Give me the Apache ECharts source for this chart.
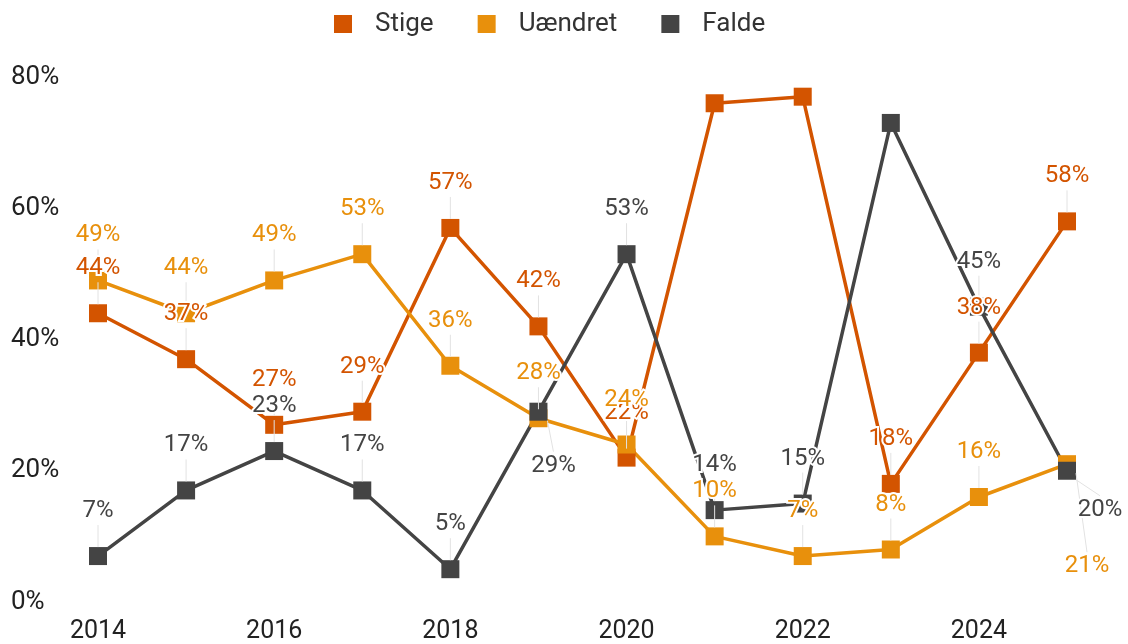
<!DOCTYPE html>
<html><head><meta charset="utf-8">
<script src="https://cdn.jsdelivr.net/npm/echarts@6/dist/echarts.min.js"></script>
<style>html,body{margin:0;padding:0;background:#fff}#c{width:1128px;height:644px}</style>
</head><body><div id="c"></div>
<script>
var years = [2014, 2015, 2016, 2017, 2018, 2019, 2020, 2021, 2022, 2023, 2024, 2025];
var stige = [44, 37, 27, 29, 57, 42, 22, 76, 77, 18, 38, 58];
var uaendret = [49, 44, 49, 53, 36, 28, 24, 10, 7, 8, 16, 21];
var falde = [7, 17, 23, 17, 5, 29, 53, 14, 15, 73, 45, 20];
var seriesNames = ['Stige', 'Uændret', 'Falde'];
var colors = ['#d35400', '#e8900c', '#444444'];

// label placement tweaks (series index -> data index -> [dx, dy]); default is above
var defaultDy = -19;
var labelMoves = {
  2: {5: [15, 80], 11: [33, 65]},
  1: {11: [20, 128]}
};
var hiddenLabels = {0: [7, 8], 2: [9]};

function pairs(vals) { return years.map(function (y, i) { return [y, vals[i]]; }); }

var chart = echarts.init(document.getElementById('c'));
var font = 'Roboto';

function lineSeries(idx, vals) {
  return {
    name: seriesNames[idx], type: 'line', z: 2,
    data: pairs(vals),
    symbol: 'rect', symbolSize: 18,
    lineStyle: {width: 3.5, color: colors[idx]},
    itemStyle: {color: colors[idx]},
    label: {show: false},
    emphasis: {disabled: true}, silent: true, animation: false
  };
}
function labelSeries(idx, vals) {
  var hid = hiddenLabels[idx] || [];
  return {
    name: seriesNames[idx], type: 'line', z: 5,
    data: pairs(vals).map(function (p, i) {
      return hid.indexOf(i) >= 0 ? {value: p, label: {show: false}} : {value: p};
    }),
    symbol: 'rect', symbolSize: 18,
    lineStyle: {opacity: 0, width: 0},
    itemStyle: {color: 'rgba(255,255,255,0)'},
    label: {
      show: true, position: 'top', distance: 5,
      formatter: function (p) { return p.value[1] + '%'; },
      color: colors[idx], fontFamily: font, fontSize: 24,
      textBorderColor: '#fff', textBorderWidth: 4
    },
    labelLine: {show: true, lineStyle: {color: '#e2e2e2', width: 1}},
    labelLayout: function (params) {
      var m = (labelMoves[idx] || {})[params.dataIndex];
      if (m) return {dx: m[0], dy: m[1]};
      return {dy: defaultDy};
    },
    emphasis: {disabled: true}, silent: true, animation: false
  };
}

chart.setOption({
  animation: false,
  color: colors,
  legend: {
    top: 6, left: 329,
    icon: 'rect', itemWidth: 18, itemHeight: 18, itemGap: 44,
    textStyle: {fontFamily: font, fontSize: 26, color: '#333', padding: [0, 0, 0, 18]},
    data: seriesNames
  },
  grid: {left: 98, right: 61, top: 77, bottom: 41},
  xAxis: {
    type: 'value', min: 2014, max: 2025, interval: 2,
    axisLine: {show: false}, axisTick: {show: false}, splitLine: {show: false},
    axisLabel: {fontFamily: font, fontSize: 25, color: '#222', margin: 17,
      formatter: function (v) { return String(v); }, showMaxLabel: false}
  },
  yAxis: {
    type: 'value', min: 0, max: 80, interval: 20,
    axisLine: {show: false}, axisTick: {show: false}, splitLine: {show: false},
    axisLabel: {fontFamily: font, fontSize: 26, color: '#222', align: 'left', margin: 87,
      formatter: '{value}%'}
  },
  series: [
    lineSeries(0, stige), lineSeries(1, uaendret), lineSeries(2, falde),
    labelSeries(0, stige), labelSeries(1, uaendret), labelSeries(2, falde)
  ]
});
</script></body></html>
